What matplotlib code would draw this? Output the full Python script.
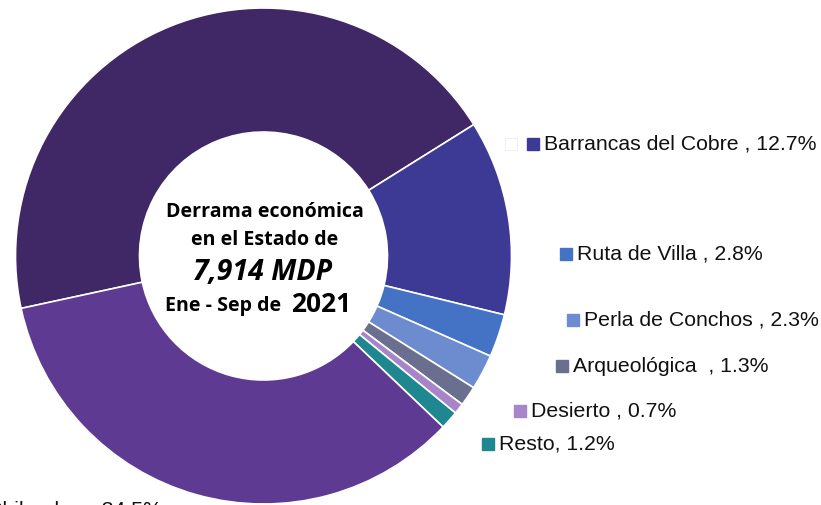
import matplotlib
matplotlib.use("Agg")
import matplotlib.pyplot as plt

# Shares of the economic spill-over by tourist route (percent)
routes = ["", "Barrancas del Cobre ", "Ruta de Villa ", "Perla de Conchos ",
          "Arqueológica  ", "Desierto ", "Resto", "Chihuahua"]
shares = [44.5, 12.7, 2.8, 2.3, 1.3, 0.7, 1.2, 34.5]
colors = ["#402866", "#3c3a94", "#4472c4", "#6d8bcf", "#6b6f8f",
          "#a785c9", "#1f878f", "#5e3a92"]

W, H = 821, 505
fig = plt.figure(figsize=(W / 100, H / 100), dpi=100)
ax = fig.add_axes([0, 0, 1, 1])

cx, cy, r = 263.5, H - 256, 248
ax.pie(shares, colors=colors, center=(cx, cy), radius=r,
       startangle=32 + 360 * shares[0] / 100, counterclock=False,
       wedgeprops=dict(width=r * 0.5, edgecolor="white", linewidth=1.2),
       frame=True)
ax.set_xlim(0, W)
ax.set_ylim(0, H)
ax.set_aspect("equal")
ax.axis("off")

# data labels with their colour keys: (index, key x, key y in pixels from top)
label_pos = [(1, 533, 144), (2, 566, 254), (3, 573, 320), (4, 562, 366),
             (5, 520, 411), (6, 488, 444)]
font = dict(family="Liberation Sans", fontsize=15.3, color="#111111")
for i, x, y in label_pos:
    ax.plot(x, H - y, marker="s", markersize=9, color=colors[i], linestyle="None")
    ax.text(x + 11, H - y, f"{routes[i]}, {shares[i]:.1f}%", va="center", ha="left", **font)

# empty key next to the first label
ax.plot(511, H - 144, marker="s", markersize=9, markerfacecolor="white",
        markeredgecolor="#eeeeee", markeredgewidth=0.6, linestyle="None")

# Chihuahua label runs off the bottom-left corner
ax.text(162, H - 510, f"{routes[7]}, {shares[7]:.1f}%", va="center", ha="right", **font)

# centre text
cfont = dict(family="Open Sans", fontweight="bold", color="black", va="center")
ax.text(265, H - 212, "Derrama económica", fontsize=14.1, ha="center", **cfont)
ax.text(265, H - 240, "en el Estado de", fontsize=14.1, ha="center", **cfont)
ax.text(263, H - 272, "7,914 MDP", fontsize=20.5, style="italic", ha="center", **cfont)
ax.text(281, H - 306, "Ene - Sep de", fontsize=14.1, ha="right", **cfont)
ax.text(291, H - 305, "2021", fontsize=19, ha="left", **cfont)

fig.savefig("out.png", dpi=100)
